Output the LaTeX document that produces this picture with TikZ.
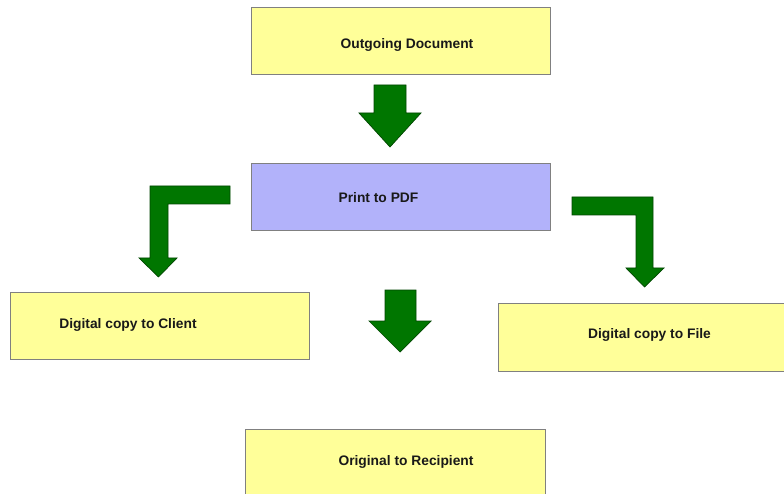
\documentclass[tikz,border=0pt]{standalone}
\usepackage{fontspec}
\setmainfont{Liberation Sans}
\definecolor{boxyellow}{RGB}{255,255,153}
\definecolor{boxviolet}{RGB}{178,178,250}
\definecolor{boxedge}{RGB}{128,128,128}
\definecolor{arrowfill}{RGB}{0,118,0}
\definecolor{arrowedge}{RGB}{0,70,0}
\tikzset{
  box/.style={draw=boxedge, line width=0.9pt},
  label text/.style={font=\fontsize{13.8}{16}\selectfont\bfseries, inner sep=0pt, text=black!90},
  blockarrow/.style={fill=arrowfill, draw=arrowedge, line width=0.7pt, line join=miter}
}
\begin{document}
\begin{tikzpicture}[x=1pt, y=-1pt]
  \useasboundingbox (0,0) rectangle (784,494);
  \clip (0,0) rectangle (784,494);
  \fill[white] (0,0) rectangle (784,494);

  % boxes
  \draw[box, fill=boxyellow] (251,7) rectangle (550,74);
  \draw[box, fill=boxviolet] (251,163) rectangle (550,230);
  \draw[box, fill=boxyellow] (10,292) rectangle (309,359);
  \draw[box, fill=boxyellow] (498,303) rectangle (800,371);
  \draw[box, fill=boxyellow] (245,429) rectangle (545,510);

  % labels
  \node[label text] (outgoing) at (407,45) {Outgoing Document};
  \node[label text] (pdf) at (378.5,198) {Print to PDF};
  \node[label text] (client) at (128,325) {Digital copy to Client};
  \node[label text] (file) at (649.5,335) {Digital copy to File};
  \node[label text] (recipient) at (406,462) {Original to Recipient};

  % block arrows
  \draw[blockarrow] (374,85) -- (406,85) -- (406,113) -- (421,113) -- (390,147)
        -- (359,113) -- (374,113) -- cycle;
  \draw[blockarrow] (385,290) -- (416,290) -- (416,321) -- (431,321) -- (400,352)
        -- (369,321) -- (385,321) -- cycle;
  \draw[blockarrow] (230,186) -- (150,186) -- (150,258) -- (139,258) -- (158.5,277)
        -- (177,258) -- (168,258) -- (168,204) -- (230,204) -- cycle;
  \draw[blockarrow] (572,197) -- (653,197) -- (653,268) -- (664,268) -- (644.5,287)
        -- (626,268) -- (636,268) -- (636,215) -- (572,215) -- cycle;
\end{tikzpicture}
\end{document}
